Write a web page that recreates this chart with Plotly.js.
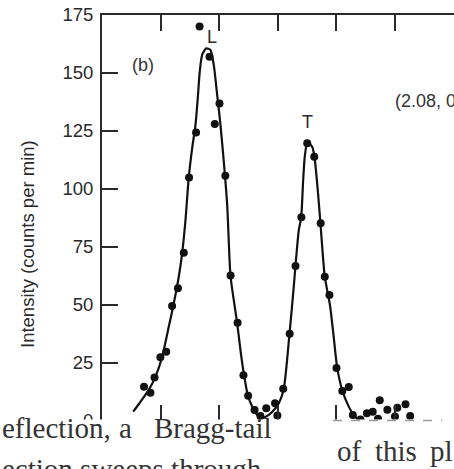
<!DOCTYPE html>
<html>
<head>
<meta charset="utf-8">
<script src="https://cdn.plot.ly/plotly-3.0.1.min.js"></script>
<style>html,body{margin:0;padding:0;background:#fff;overflow:hidden}#chart{width:454px;height:469px}</style>
</head>
<body>
<div id="chart"></div>
<script>
// measured intensities (counts per min) vs scan position (tick units)
const pointX = [0.71,0.82,0.89,0.99,1.09,1.19,1.29,1.39,1.48,1.60,1.66,1.83,1.92,2.00,2.10,2.19,2.31,2.41,2.49,2.60,2.70,2.80,2.95,2.99,3.09,3.20,3.30,3.40,3.50,3.62,3.73,3.80,3.88,4.00,4.10,4.21,4.28,4.41,4.52,4.62,4.71,4.74,4.87,5.00,5.04,5.18,5.26];
const pointY = [14.8,12.2,18.7,27.5,29.9,49.6,57.2,72.5,105.0,124.4,170.0,157.0,128.0,136.9,105.7,62.7,42.4,19.7,10.9,4.7,2.2,5.5,7.6,2.4,13.9,37.6,66.8,87.8,119.7,113.9,85.2,62.2,54.3,22.8,12.9,14.7,2.6,0.7,3.3,4.0,1.0,8.9,4.9,1.9,5.7,7.2,2.2];
// fitted curve
const curveX = [0.525,0.650,0.791,0.906,1.021,1.133,1.219,1.304,1.362,1.419,1.475,1.533,1.590,1.629,1.663,1.704,1.773,1.846,1.903,1.961,2.017,2.074,2.132,2.188,2.244,2.303,2.359,2.415,2.484,2.559,2.644,2.730,2.843,2.957,3.014,3.099,3.197,3.270,3.299,3.356,3.397,3.431,3.458,3.504,3.585,3.624,3.680,3.726,3.800,3.889,3.949,4.012,4.097,4.210,4.296,4.381,4.496];
const curveY = [4.0,8.3,13.4,19.1,27.7,40.6,50.7,62.2,72.3,86.6,105.0,117.5,127.6,139.1,150.6,157.8,160.6,159.9,153.4,140.5,127.6,111.8,93.1,62.6,52.2,42.1,30.6,20.6,11.2,6.2,2.6,1.2,2.6,5.5,7.6,13.8,37.5,57.9,66.8,82.3,87.8,103.9,113.9,120.4,118.2,113.9,99.6,85.2,62.2,50.0,37.1,23.0,13.4,6.2,2.6,0.4,0.0];
const yTicks = [0,25,50,75,100,125,150,175];
const xTicks = [1,2,3,4,5,6];
const peakLabels = ["L","T"];
const peakLabelX = [1.867,3.504];
const peakLabelY = [165.5,128.9];

const W = 454, H = 469, ML = 102, MT = 15, MB = 48;
const PW = W - ML, PH = H - MT - MB;
const px = v => (v - ML) / PW;         // pixel -> paper x
const py = v => (H - MB - v) / PH;     // pixel -> paper y

const ink = '#111', grey = '#2a2a2a';
const sans = 'Liberation Sans, Arial, sans-serif';
const serif = 'Liberation Serif, Times New Roman, serif';

const traces = [
  {x: curveX, y: curveY, type: 'scatter', mode: 'lines',
   line: {color: ink, width: 2.2, shape: 'spline', smoothing: 0.6}, hoverinfo: 'skip'},
  {x: pointX, y: pointY, type: 'scatter', mode: 'markers',
   marker: {color: ink, size: 8}}
];

const textAnn = (t, x, y, size, fam, xa) => ({text: t, x: px(x), y: py(y), xref: 'paper', yref: 'paper',
  xanchor: xa || 'left', yanchor: 'middle', showarrow: false, font: {family: fam, size: size, color: '#333'}});

const annotations = [
  {text: 'Intensity (counts per min)', x: px(27), y: py(244), xref: 'paper', yref: 'paper', textangle: -90,
   showarrow: false, xanchor: 'center', yanchor: 'middle', font: {family: sans, size: 18.5, color: grey}},
  textAnn('(b)', 143, 65, 18, sans, 'center'),
  textAnn('(2.08, 0', 393, 101, 18, sans, 'left'),
  textAnn('eflection,', 0, 428, 29, serif),
  textAnn('a', 117, 428, 29, serif),
  textAnn('Bragg-tail', 152, 428, 29, serif),
  textAnn('ection sweeps through', 0, 469, 29, serif),
  textAnn('of', 335, 451, 29, serif),
  textAnn('this', 373, 451, 29, serif),
  textAnn('pl', 428, 451, 29, serif)
];
peakLabels.forEach((t, i) => annotations.push({text: t, x: peakLabelX[i], y: peakLabelY[i], xref: 'x', yref: 'y',
  showarrow: false, font: {family: sans, size: 18, color: grey}}));

const layout = {
  width: W, height: H, margin: {l: ML, r: 0, t: MT, b: MB, pad: 0},
  paper_bgcolor: '#fff', plot_bgcolor: '#fff', showlegend: false,
  xaxis: {range: [-0.008, PW / 58.5 - 0.008], tickvals: xTicks, showticklabels: false, ticks: 'inside',
    ticklen: 16, tickwidth: 2, tickcolor: grey, showline: true, linewidth: 2, linecolor: grey,
    mirror: 'ticks', showgrid: false, zeroline: false, fixedrange: true},
  yaxis: {range: [0, 175], tickvals: yTicks, ticks: 'inside', ticklen: 16, tickwidth: 2, tickcolor: grey,
    showline: true, linewidth: 2, linecolor: grey, showgrid: false, zeroline: false, ticklabelstandoff: 3,
    tickfont: {family: sans, size: 18.5, color: grey}, fixedrange: true},
  shapes: [
    {type: 'rect', xref: 'paper', yref: 'paper', x0: px(-2), x1: px(W + 2), y0: py(419.5), y1: py(H + 2),
     fillcolor: '#fff', line: {width: 0}, layer: 'above'},
    {type: 'line', xref: 'paper', yref: 'paper', x0: px(333), x1: px(442), y0: py(420.5), y1: py(420.5),
     line: {color: '#999', width: 1.5, dash: 'dash'}, layer: 'above'}
  ],
  annotations: annotations
};

Plotly.newPlot('chart', traces, layout, {staticPlot: true, displayModeBar: false});
</script>
</body>
</html>
